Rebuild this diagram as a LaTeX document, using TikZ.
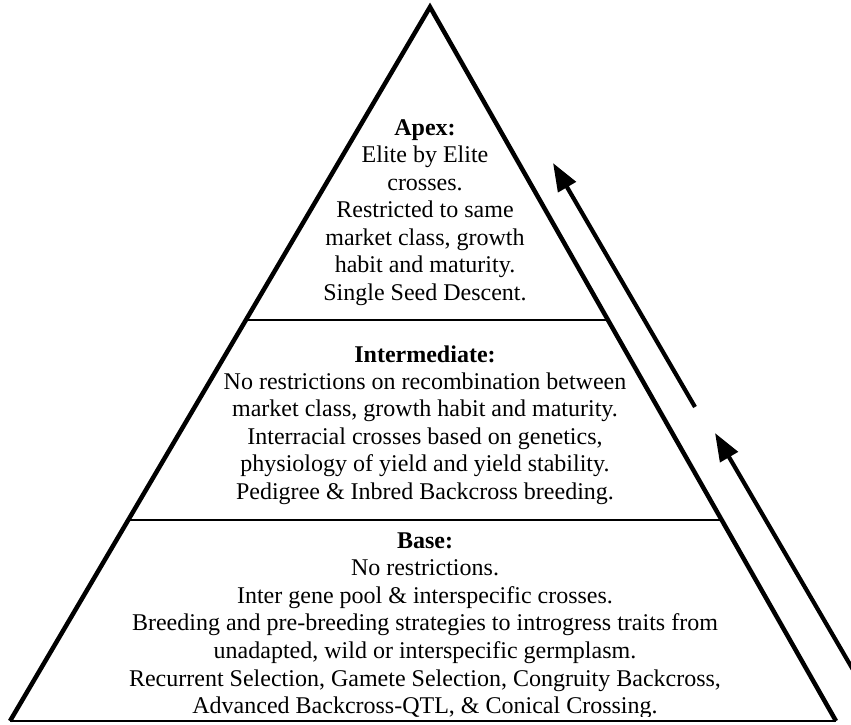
\documentclass[tikz,border=0pt]{standalone}
\usepackage{fontspec}
\setmainfont{Liberation Serif}
\usetikzlibrary{arrows.meta,calc}
\begin{document}
\begin{tikzpicture}[x=1pt,y=-1pt,
  side/.style={line width=4.5pt, line join=miter},
  divider/.style={line width=2.4pt},
  baseedge/.style={line width=2pt},
  txt/.style={font=\fontsize{24}{27.5}\selectfont, anchor=base, inner sep=0pt},
  hd/.style={txt, font=\fontsize{24}{27.5}\selectfont\bfseries},
  flow/.style={line width=4.2pt, -{Triangle[length=28pt,width=20pt]}}
]
\path[use as bounding box] (0,0) rectangle (851,724);
\fill[white] (0,0) rectangle (851,724);
\clip (0,0) rectangle (851,724);
% pyramid
\coordinate (apex) at (430,7);
\coordinate (bl) at (10,721);
\coordinate (br) at (836,721);
\coordinate (d1l) at ($(apex)!0.4384!(bl)$);
\coordinate (d1r) at ($(apex)!0.4384!(br)$);
\coordinate (d2l) at ($(apex)!0.7185!(bl)$);
\coordinate (d2r) at ($(apex)!0.7185!(br)$);
\draw[baseedge] (bl) -- (br);
\draw[divider] (d1l) -- (d1r);
\draw[divider] (d2l) -- (d2r);
\draw[side] (bl) -- (apex) -- (br);
% arrows
\coordinate (a1s) at (695,407);
\coordinate (a1e) at (553,163);
\coordinate (a2s) at (894,740);
\coordinate (a2e) at (715,433);
\draw[flow] (a1s) -- (a1e);
\draw[flow] (a2s) -- (a2e);
% apex text
\node[hd] (tah) at (425,135) {Apex:};
\foreach [count=\i] \t in {Elite by Elite, crosses., Restricted to same, {market class, growth}, habit and maturity., Single Seed Descent.}
  \node[txt] (ta\i) at (425,135+27.5*\i) {\t};
% intermediate text
\node[hd] (tih) at (425,362) {Intermediate:};
\foreach [count=\i] \t in {No restrictions on recombination between, {market class, growth habit and maturity.}, {Interracial crosses based on genetics,}, physiology of yield and yield stability., Pedigree \& Inbred Backcross breeding.}
  \node[txt] (ti\i) at (425,362+27.4*\i) {\t};
% base text
\begin{scope}
\clip (0,0) rectangle (851,716);
\node[hd] (tbh) at (425,548) {Base:};
\foreach [count=\i] \t in {No restrictions., Inter gene pool \& interspecific crosses., Breeding and pre-breeding strategies to introgress traits from, {unadapted, wild or interspecific germplasm.}, {Recurrent Selection, Gamete Selection, Congruity Backcross,}, {Advanced Backcross-QTL, \& Conical Crossing.}}
  \node[txt] (tb\i) at (425,548+27.6*\i) {\t};
\end{scope}
\end{tikzpicture}
\end{document}
